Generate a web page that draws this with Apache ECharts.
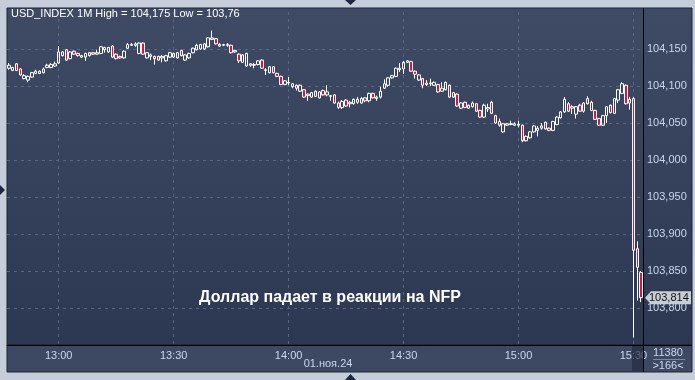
<!DOCTYPE html>
<html><head><meta charset="utf-8">
<script src="https://cdn.jsdelivr.net/npm/echarts@6/dist/echarts.min.js"></script>
<style>html,body{margin:0;padding:0;background:#c4cdd9}#c{width:695px;height:380px}</style>
</head><body><div id="c"></div><script>
const startMinute = 12 * 60 + 47;
const dateLabel = '01.ноя.24';
const titleText = 'USD_INDEX 1M High = 104,175 Low = 103,76';
const noteText = 'Доллар падает в реакции на NFP';
const volumeText = '11380';

const opens = [104.124,104.121,104.130,104.123,104.110,104.108,104.112,104.117,104.117,104.118,
104.125,104.125,104.127,104.131,104.141,104.149,104.137,104.147,104.144,104.139,
104.139,104.141,104.145,104.143,104.144,104.149,104.146,104.154,104.143,104.140,
104.138,104.151,104.155,104.155,104.144,104.158,104.138,104.140,104.140,104.135,
104.138,104.134,104.139,104.139,104.138,104.148,104.135,104.138,104.145,104.149,
104.150,104.150,104.153,104.163,104.164,104.154,104.155,104.155,104.155,104.146,
104.143,104.132,104.127,104.128,104.128,104.129,104.135,104.121,104.118,104.126,
104.117,104.113,104.102,104.104,104.099,104.101,104.093,104.095,104.087,104.085,
104.093,104.084,104.094,104.088,104.086,104.088,104.077,104.071,104.081,104.076,
104.076,104.078,104.077,104.084,104.080,104.090,104.083,104.085,104.097,104.101,
104.111,104.113,104.122,104.123,104.132,104.133,104.120,104.108,104.110,104.102,
104.103,104.101,104.102,104.093,104.095,104.101,104.085,104.089,104.070,104.078,
104.070,104.072,104.076,104.067,104.058,104.069,104.078,104.060,104.052,104.038,
104.047,104.048,104.047,104.047,104.047,104.026,104.030,104.038,104.040,104.043,
104.051,104.043,104.040,104.048,104.057,104.065,104.076,104.070,104.062,104.074,
104.066,104.083,104.067,104.067,104.056,104.047,104.060,104.074,104.063,104.081,
104.090,104.101,104.077,104.083,103.880,103.848];
const closes = [104.128,104.125,104.121,104.115,104.114,104.113,104.118,104.120,104.120,104.123,
104.128,104.129,104.130,104.146,104.146,104.135,104.146,104.143,104.141,104.141,
104.144,104.145,104.143,104.145,104.153,104.152,104.152,104.139,104.137,104.138,
104.147,104.156,104.156,104.157,104.158,104.143,104.145,104.142,104.137,104.140,
104.140,104.141,104.145,104.144,104.145,104.141,104.142,104.144,104.151,104.155,
104.156,104.157,104.165,104.165,104.157,104.156,104.156,104.156,104.145,104.148,
104.134,104.142,104.144,104.130,104.129,104.134,104.124,104.122,104.126,104.118,
104.113,104.102,104.107,104.105,104.103,104.097,104.101,104.085,104.089,104.091,
104.086,104.092,104.088,104.092,104.087,104.077,104.071,104.079,104.073,104.078,
104.082,104.082,104.083,104.080,104.090,104.084,104.085,104.093,104.103,104.111,
104.114,104.124,104.124,104.132,104.134,104.120,104.116,104.115,104.101,104.104,
104.104,104.105,104.092,104.097,104.105,104.085,104.091,104.073,104.077,104.071,
104.074,104.077,104.066,104.058,104.074,104.071,104.063,104.050,104.047,104.049,
104.049,104.049,104.049,104.048,104.026,104.032,104.038,104.046,104.043,104.046,
104.042,104.040,104.052,104.058,104.065,104.082,104.066,104.072,104.072,104.066,
104.077,104.076,104.078,104.055,104.047,104.060,104.072,104.064,104.083,104.095,
104.103,104.076,104.082,103.878,103.855,103.814];
const lows = [104.122,104.120,104.120,104.114,104.109,104.105,104.111,104.116,104.116,104.117,
104.124,104.124,104.126,104.130,104.140,104.134,104.136,104.142,104.140,104.138,
104.134,104.140,104.142,104.142,104.143,104.145,104.145,104.138,104.136,104.137,
104.137,104.150,104.154,104.153,104.143,104.142,104.137,104.135,104.129,104.134,
104.132,104.133,104.138,104.138,104.137,104.140,104.134,104.137,104.144,104.148,
104.149,104.149,104.152,104.162,104.156,104.153,104.154,104.153,104.144,104.145,
104.131,104.131,104.126,104.126,104.124,104.128,104.123,104.115,104.117,104.117,
104.112,104.101,104.101,104.101,104.097,104.094,104.092,104.084,104.080,104.084,
104.085,104.083,104.087,104.086,104.080,104.076,104.069,104.069,104.072,104.071,
104.075,104.076,104.076,104.078,104.078,104.083,104.080,104.083,104.096,104.099,
104.110,104.112,104.119,104.116,104.131,104.119,104.110,104.107,104.097,104.100,
104.100,104.100,104.091,104.092,104.094,104.084,104.084,104.072,104.069,104.070,
104.069,104.071,104.065,104.057,104.057,104.065,104.062,104.049,104.045,104.037,
104.046,104.047,104.046,104.044,104.024,104.025,104.029,104.037,104.032,104.041,
104.041,104.039,104.039,104.047,104.056,104.064,104.065,104.062,104.056,104.065,
104.064,104.075,104.066,104.054,104.046,104.046,104.050,104.063,104.062,104.077,
104.089,104.075,104.068,103.760,103.810,103.808];
const highs = [104.131,104.126,104.131,104.124,104.116,104.114,104.119,104.122,104.121,104.125,
104.130,104.131,104.133,104.154,104.147,104.150,104.147,104.148,104.145,104.142,
104.145,104.146,104.146,104.149,104.154,104.153,104.153,104.155,104.144,104.141,
104.148,104.158,104.158,104.159,104.159,104.159,104.146,104.144,104.141,104.141,
104.142,104.142,104.146,104.145,104.146,104.149,104.143,104.145,104.152,104.157,
104.157,104.158,104.166,104.175,104.165,104.158,104.157,104.158,104.156,104.149,
104.144,104.143,104.145,104.131,104.131,104.135,104.136,104.124,104.127,104.127,
104.118,104.114,104.108,104.112,104.104,104.102,104.102,104.096,104.090,104.092,
104.094,104.093,104.095,104.101,104.088,104.089,104.079,104.081,104.082,104.080,
104.083,104.085,104.085,104.085,104.091,104.091,104.087,104.099,104.109,104.112,
104.115,104.125,104.131,104.134,104.135,104.134,104.121,104.116,104.111,104.108,
104.110,104.106,104.103,104.105,104.106,104.102,104.092,104.090,104.078,104.079,
104.075,104.079,104.077,104.068,104.076,104.076,104.080,104.061,104.056,104.050,
104.050,104.053,104.051,104.053,104.048,104.033,104.039,104.047,104.046,104.050,
104.052,104.044,104.053,104.059,104.066,104.085,104.078,104.074,104.073,104.076,
104.078,104.086,104.080,104.068,104.057,104.061,104.073,104.075,104.084,104.096,
104.105,104.102,104.085,104.085,103.890,103.850];

const categories = opens.map((_, i) => {
  const m = startMinute + i;
  return String(Math.floor(m / 60)).padStart(2, '0') + ':' + String(m % 60).padStart(2, '0');
});
const fmt = v => Number(v).toFixed(3).replace('.', ',');
const isMajor = (i, v) => /:(00|30)$/.test(v);
const FONT = '"Liberation Sans Narrow", "Liberation Sans", Arial, sans-serif';
const LABEL = '#c9d7ee';
const GRIDC = '#5a6782';

function txt(id, x, y, text, fill, font, align) {
  return {id, type: 'text', z: 40, style: {x, y, text, fill, font, align: align, verticalAlign: 'middle', textAlign: align, textVerticalAlign: 'middle'}};
}

const chart = echarts.init(document.getElementById('c'), null, {renderer: 'canvas'});
const baseGraphics = [
  {id: 'bg', type: 'rect', z: -10, shape: {x: 7, y: 8, width: 685, height: 337},
    style: {fill: new echarts.graphic.LinearGradient(0, 0, 0, 1, [{offset: 0, color: '#3f4b65'}, {offset: 1, color: '#2c3852'}]), stroke: '#1c2536', lineWidth: 1}},
  {id: 'strip', type: 'rect', z: -10, shape: {x: 7, y: 345, width: 685, height: 27}, style: {fill: '#3d4963', stroke: '#1c2536', lineWidth: 1}},
  {id: 'hl', type: 'line', z: 40, shape: {x1: 7, y1: 345.5, x2: 692, y2: 345.5}, style: {stroke: '#000', lineWidth: 1}},
  {id: 'vl', type: 'line', z: 40, shape: {x1: 643.5, y1: 8, x2: 643.5, y2: 372}, style: {stroke: '#000', lineWidth: 1}},
  {id: 'cur', type: 'rect', z: 41, shape: {x: 632, y: 346, width: 11, height: 25}, style: {fill: 'rgba(32,42,62,0.65)'}},
  {id: 'sep', type: 'line', z: 40, shape: {x1: 653, y1: 359.5, x2: 685, y2: 359.5}, style: {stroke: '#7d899f', lineWidth: 1}},
  txt('vol', 668, 353, volumeText, LABEL, '11px ' + FONT, 'center'),
  txt('cnt', 668, 366, '>' + opens.length + '<', LABEL, '11px ' + FONT, 'center'),
  txt('date', 328, 364, dateLabel, LABEL, '11px ' + FONT, 'center'),
  txt('title', 11, 14, titleText, '#ffffff', '11px ' + FONT, 'left'),
  txt('note', 330, 298, noteText, '#ffffff', 'bold 16px "Liberation Sans", Arial, sans-serif', 'center'),
  {id: 't1', type: 'polygon', z: 40, shape: {points: [[345, 0], [356, 0], [350.5, 5]]}, style: {fill: '#1d2840'}},
  {id: 't2', type: 'polygon', z: 40, shape: {points: [[345, 380], [356, 380], [350.5, 374]]}, style: {fill: '#1d2840'}},
  {id: 't3', type: 'polygon', z: 40, shape: {points: [[0, 185], [0, 195], [5, 190]]}, style: {fill: '#1d2840'}}
];

chart.setOption({
  backgroundColor: '#c4cdd9',
  animation: false,
  grid: {left: 7, right: 52, top: 12, bottom: 35},
  xAxis: {
    type: 'category', data: categories, boundaryGap: true,
    axisLine: {show: true, lineStyle: {color: '#000', width: 1}},
    axisTick: {show: false},
    axisLabel: {interval: isMajor, color: LABEL, fontSize: 11, fontFamily: FONT, margin: 5},
    splitLine: {show: true, interval: isMajor, alignWithLabel: true, lineStyle: {color: GRIDC, type: [3, 4], width: 1}}
  },
  yAxis: {
    type: 'value', position: 'right', min: 103.75, max: 104.20, interval: 0.05,
    axisLine: {show: false}, axisTick: {show: false},
    axisLabel: {showMinLabel: false, showMaxLabel: false, formatter: fmt, color: LABEL, fontSize: 11, fontFamily: FONT, margin: 4},
    splitLine: {show: true, showMinLine: false, showMaxLine: false, lineStyle: {color: GRIDC, type: [3, 4], width: 1}}
  },
  series: [{
    type: 'candlestick',
    data: opens.map((o, i) => [o, closes[i], lows[i], highs[i]]),
    barWidth: 3,
    itemStyle: {color: 'rgba(0,0,0,0)', color0: '#e3103d', borderColor: '#ffffff', borderColor0: '#ffffff', borderWidth: 1}
  }],
  graphic: {elements: baseGraphics}
});

const last = closes[closes.length - 1];
const ly = chart.convertToPixel({yAxisIndex: 0}, last);
chart.setOption({graphic: {elements: [
  {id: 'tagbox', type: 'polygon', z: 45, shape: {points: [[645, ly], [651, ly - 6.5], [691, ly - 6.5], [691, ly + 6.5], [651, ly + 6.5]]}, style: {fill: '#c9cdd4'}},
  Object.assign(txt('tagtxt', 649, ly, fmt(last), '#111111', '11px ' + FONT, 'left'), {z: 46})
]}});
</script></body></html>
